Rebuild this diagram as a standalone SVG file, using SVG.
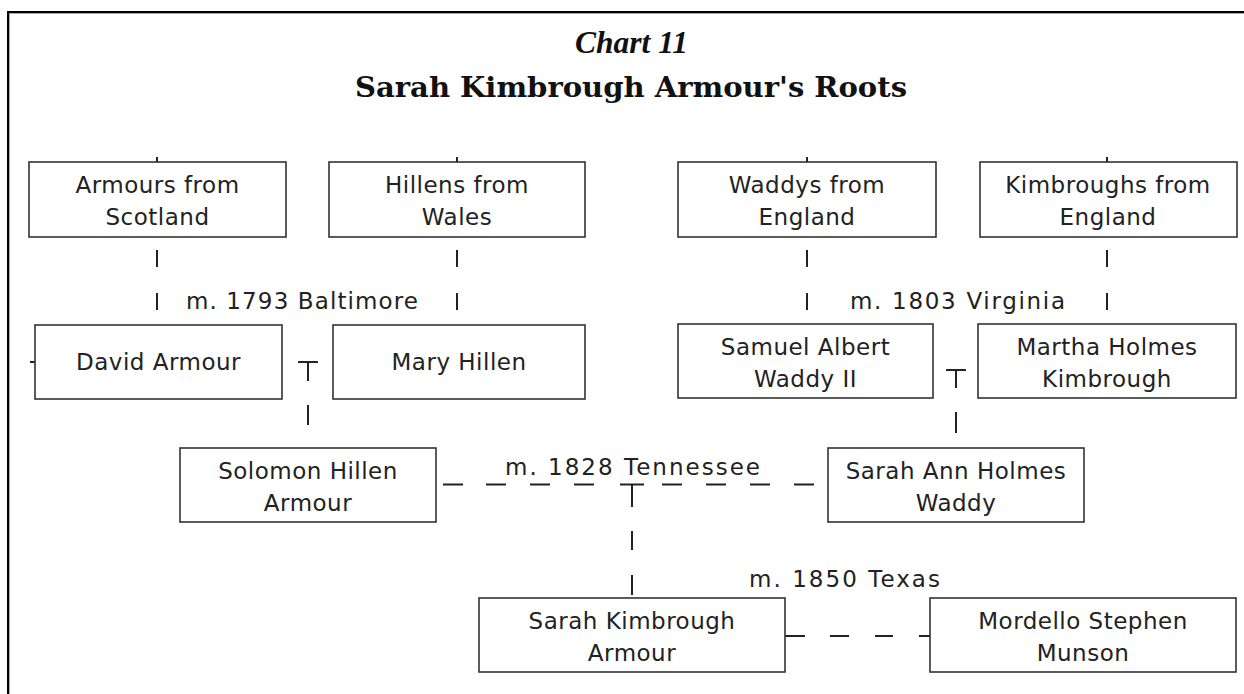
<svg xmlns="http://www.w3.org/2000/svg" width="1244" height="694" viewBox="0 0 1244 694">
  <style>
    .box { fill: #fff; stroke: #333; stroke-width: 1.6; }
    .lbl { font-family: "DejaVu Sans", "Liberation Sans", sans-serif; font-size: 23px; fill: #222; text-anchor: middle; letter-spacing: 0.5px; }
    .mar { font-family: "DejaVu Sans", "Liberation Sans", sans-serif; font-size: 23px; fill: #222; }
    .ln { stroke: #222; stroke-width: 2; fill: none; }
  </style>

  <!-- page frame -->
  <rect width="1244" height="694" fill="#fff"/>
  <g id="frame">
    <line x1="8" y1="11" x2="8" y2="694" stroke="#000" stroke-width="2"/>
    <line x1="7" y1="12" x2="1244" y2="12" stroke="#000" stroke-width="2"/>
    <line x1="9.5" y1="13.5" x2="9.5" y2="694" stroke="#aaa" stroke-width="1"/>
    <line x1="9" y1="13.5" x2="1244" y2="13.5" stroke="#aaa" stroke-width="1"/>
  </g>

  <!-- heading -->
  <g id="title">
    <text x="631.5" y="53" text-anchor="middle" font-family="'Liberation Serif', serif" font-style="italic" font-weight="bold" font-size="31" textLength="113" lengthAdjust="spacingAndGlyphs" fill="#111">Chart 11</text>
    <text x="631" y="97" text-anchor="middle" font-family="'DejaVu Serif', 'Liberation Serif', serif" font-weight="bold" font-size="28" textLength="552" lengthAdjust="spacingAndGlyphs" fill="#111">Sarah Kimbrough Armour's Roots</text>
  </g>

  <!-- connectors -->
  <g id="connectors" class="ln">
    <!-- ticks above the family boxes -->
    <line x1="157" y1="157" x2="157" y2="162"/>
    <line x1="457" y1="157" x2="457" y2="162"/>
    <line x1="807" y1="157" x2="807" y2="162"/>
    <line x1="1107" y1="157" x2="1107" y2="162"/>
    <!-- descent lines, row 1 to row 2 -->
    <line x1="157" y1="250" x2="157" y2="267"/>
    <line x1="157" y1="293" x2="157" y2="310"/>
    <line x1="457" y1="250" x2="457" y2="267"/>
    <line x1="457" y1="293" x2="457" y2="310"/>
    <line x1="807" y1="250" x2="807" y2="267"/>
    <line x1="807" y1="293" x2="807" y2="310"/>
    <line x1="1107" y1="250" x2="1107" y2="267"/>
    <line x1="1107" y1="293" x2="1107" y2="310"/>
    <!-- stub left of David Armour -->
    <line x1="30" y1="362" x2="35" y2="362"/>
    <!-- David + Mary -> Solomon -->
    <line x1="298" y1="362" x2="318" y2="362"/>
    <line x1="308" y1="362" x2="308" y2="381"/>
    <line x1="308" y1="405" x2="308" y2="425"/>
    <!-- Samuel + Martha -> Sarah Ann -->
    <line x1="946" y1="370" x2="966" y2="370"/>
    <line x1="956" y1="370" x2="956" y2="388"/>
    <line x1="956" y1="412" x2="956" y2="433"/>
    <!-- Solomon = Sarah Ann marriage line -->
    <path d="M443 484.5H463 M486 484.5H506 M530 484.5H550 M574 484.5H594 M662 484.5H682 M706 484.5H726 M750 484.5H770 M794 484.5H814"/>
    <line x1="620" y1="484.5" x2="644" y2="484.5"/>
    <line x1="632" y1="484.5" x2="632" y2="507"/>
    <line x1="632" y1="531" x2="632" y2="550"/>
    <line x1="632" y1="575" x2="632" y2="595"/>
    <!-- Sarah Kimbrough = Mordello marriage line -->
    <path d="M785 636H805 M830 636H849 M875 636H893 M919 636H930"/>
  </g>

  <!-- marriage notes -->
  <g id="marriages">
    <text class="mar" x="186" y="309" textLength="232" lengthAdjust="spacing">m. 1793 Baltimore</text>
    <text class="mar" x="850" y="309" textLength="215" lengthAdjust="spacing">m. 1803 Virginia</text>
    <text class="mar" x="505" y="475" textLength="255" lengthAdjust="spacing">m. 1828 Tennessee</text>
    <text class="mar" x="749" y="587" textLength="191" lengthAdjust="spacing">m. 1850 Texas</text>
  </g>

  <!-- people and families -->
  <g id="armours-scotland">
    <rect class="box" x="29" y="162" width="257" height="75"/>
    <text class="lbl" x="157.5" y="193">Armours from</text>
    <text class="lbl" x="157.5" y="225">Scotland</text>
  </g>
  <g id="hillens-wales">
    <rect class="box" x="329" y="162" width="256" height="75"/>
    <text class="lbl" x="457" y="193">Hillens from</text>
    <text class="lbl" x="457" y="225">Wales</text>
  </g>
  <g id="waddys-england">
    <rect class="box" x="678" y="162" width="258" height="75"/>
    <text class="lbl" x="807" y="193">Waddys from</text>
    <text class="lbl" x="807" y="225">England</text>
  </g>
  <g id="kimbroughs-england">
    <rect class="box" x="980" y="162" width="257" height="75"/>
    <text class="lbl" x="1108" y="193">Kimbroughs from</text>
    <text class="lbl" x="1108" y="225">England</text>
  </g>

  <g id="david-armour">
    <rect class="box" x="35" y="325" width="247" height="74"/>
    <text class="lbl" x="158.5" y="370">David Armour</text>
  </g>
  <g id="mary-hillen">
    <rect class="box" x="333" y="325" width="252" height="74"/>
    <text class="lbl" x="459" y="370">Mary Hillen</text>
  </g>
  <g id="samuel-albert-waddy">
    <rect class="box" x="678" y="324" width="255" height="74"/>
    <text class="lbl" x="805.5" y="355">Samuel Albert</text>
    <text class="lbl" x="805.5" y="387">Waddy II</text>
  </g>
  <g id="martha-holmes-kimbrough">
    <rect class="box" x="978" y="324" width="258" height="74"/>
    <text class="lbl" x="1107" y="355">Martha Holmes</text>
    <text class="lbl" x="1107" y="387">Kimbrough</text>
  </g>

  <g id="solomon-hillen-armour">
    <rect class="box" x="180" y="448" width="256" height="74"/>
    <text class="lbl" x="308" y="479">Solomon Hillen</text>
    <text class="lbl" x="308" y="511">Armour</text>
  </g>
  <g id="sarah-ann-holmes-waddy">
    <rect class="box" x="828" y="448" width="256" height="74"/>
    <text class="lbl" x="956" y="479">Sarah Ann Holmes</text>
    <text class="lbl" x="956" y="511">Waddy</text>
  </g>

  <g id="sarah-kimbrough-armour">
    <rect class="box" x="479" y="598" width="306" height="74"/>
    <text class="lbl" x="632" y="629">Sarah Kimbrough</text>
    <text class="lbl" x="632" y="661">Armour</text>
  </g>
  <g id="mordello-stephen-munson">
    <rect class="box" x="930" y="598" width="306" height="74"/>
    <text class="lbl" x="1083" y="629">Mordello Stephen</text>
    <text class="lbl" x="1083" y="661">Munson</text>
  </g>
</svg>
